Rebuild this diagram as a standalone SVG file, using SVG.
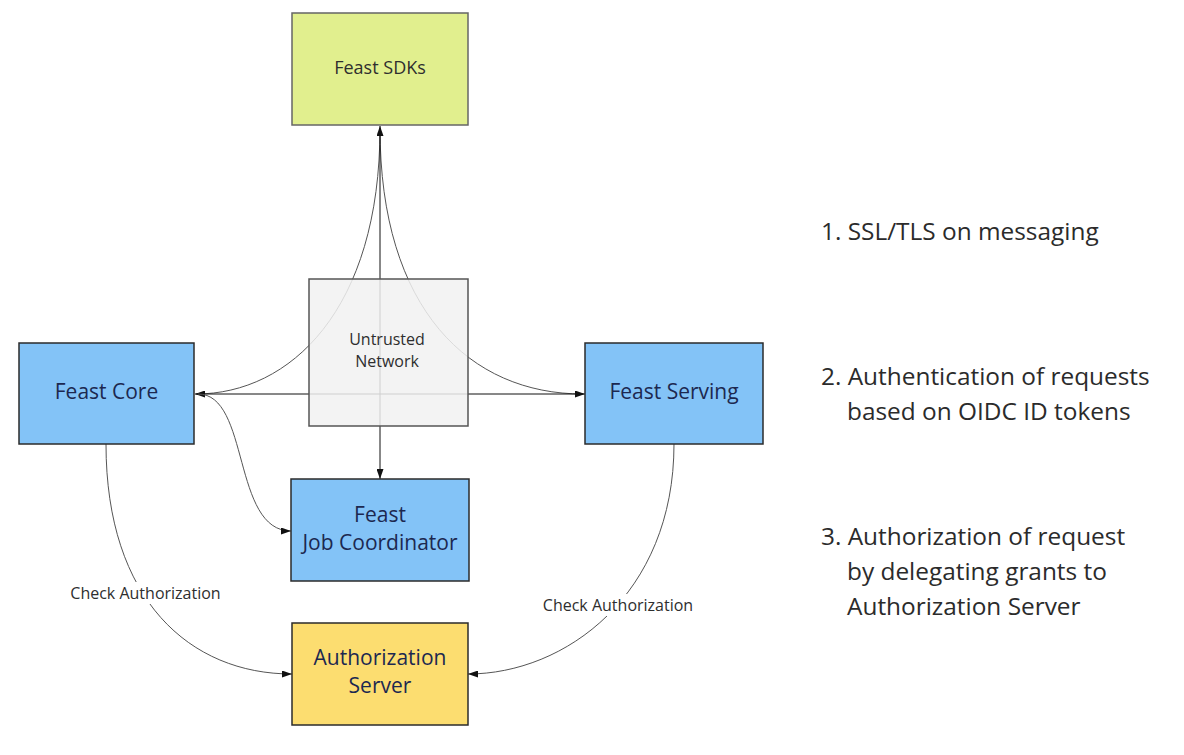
<svg xmlns="http://www.w3.org/2000/svg" width="1184" height="755" viewBox="0 0 1184 755">
<style>
  .box { stroke-width: 1.5; }
  .blue { fill: #83c3f7; stroke: #2b2b2b; }
  .lbl { font-family: "Open Sans", "Liberation Sans", sans-serif; text-anchor: middle; }
  .navy { fill: #1c2850; }
  .dark { fill: #2e2e2e; }
  .conn { fill: none; stroke: #111; stroke-width: 1; }
  .curve { fill: none; stroke: #555; stroke-width: 1; }
  .note { font-family: "Open Sans", "Liberation Sans", sans-serif; font-size: 24.4px; fill: #2b2b2b; }
</style>
<defs>
  <marker id="arr" markerUnits="userSpaceOnUse" markerWidth="10" markerHeight="7" refX="10" refY="3.5" orient="auto-start-reverse">
    <path d="M0,0 L10,3.5 L0,7 z" fill="#111"/>
  </marker>
</defs>
<rect width="1184" height="755" fill="#ffffff"/>

<g id="connectors">
  <path class="curve" d="M380,128 C380,310 290,394 196,394"/>
  <path class="curve" d="M380,128 C380,310 470,394 583,394"/>
  <path class="conn" d="M380,126 L380,479" marker-start="url(#arr)" marker-end="url(#arr)"/>
  <path class="conn" d="M195,394 L585,394" marker-start="url(#arr)" marker-end="url(#arr)"/>
  <path class="curve" d="M198,394 C250,394 232,531 291,531" marker-end="url(#arr)"/>
  <path class="curve" d="M106,444 C106,600 190,674 292,674" marker-end="url(#arr)"/>
  <path class="curve" d="M674,444 C674,595 565,674 468,674" marker-end="url(#arr)"/>
  <rect x="67" y="582" width="157" height="22" fill="#ffffff"/>
  <text class="lbl dark" x="145.5" y="599" font-size="16">Check Authorization</text>
  <rect x="540" y="594" width="157" height="22" fill="#ffffff"/>
  <text class="lbl dark" x="618" y="611" font-size="16">Check Authorization</text>
</g>

<g id="untrusted-network">
  <rect class="box" x="309" y="279" width="159" height="147" fill="#f1f1f1" fill-opacity="0.85" stroke="#555"/>
  <text class="lbl dark" x="387" y="345" font-size="16">Untrusted</text>
  <text class="lbl dark" x="387" y="367" font-size="16">Network</text>
</g>

<g id="feast-sdks">
  <rect class="box" x="292" y="13" width="176" height="112" fill="#e1ef8e" stroke="#666"/>
  <text class="lbl dark" x="380" y="74" font-size="18">Feast SDKs</text>
</g>

<g id="feast-core">
  <rect class="box blue" x="19" y="343" width="175" height="101"/>
  <text class="lbl navy" x="106.5" y="399" font-size="21">Feast Core</text>
</g>

<g id="feast-serving">
  <rect class="box blue" x="585" y="343" width="178" height="101"/>
  <text class="lbl navy" x="674" y="399" font-size="21">Feast Serving</text>
</g>

<g id="job-coordinator">
  <rect class="box blue" x="291" y="479" width="178" height="102"/>
  <text class="lbl navy" x="380" y="522" font-size="21">Feast</text>
  <text class="lbl navy" x="380" y="550" font-size="21">Job Coordinator</text>
</g>

<g id="authorization-server">
  <rect class="box" x="292" y="623" width="176" height="102" fill="#fcdd70" stroke="#2b2b2b"/>
  <text class="lbl navy" x="380" y="665" font-size="21">Authorization</text>
  <text class="lbl navy" x="380" y="693" font-size="21">Server</text>
</g>

<g id="notes">
  <text class="note" x="821" y="240">1. SSL/TLS on messaging</text>
  <text class="note" x="821" y="385">2. Authentication of requests</text>
  <text class="note" x="847" y="420">based on OIDC ID tokens</text>
  <text class="note" x="821" y="545">3. Authorization of request</text>
  <text class="note" x="847" y="580">by delegating grants to</text>
  <text class="note" x="847" y="615">Authorization Server</text>
</g>
</svg>
